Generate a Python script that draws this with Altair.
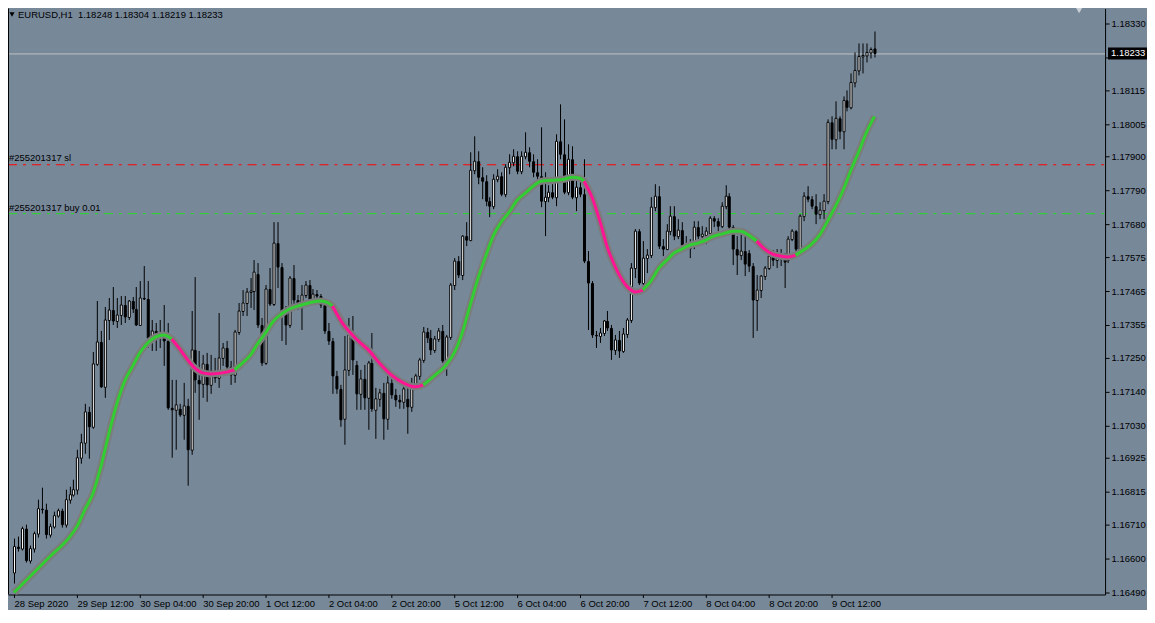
import json
import altair as alt
import pandas as pd

# EURUSD H1 candles, prices quoted in points (1 point = 0.00001)
OPEN_PTS = [
    116554, 116637, 116631, 116695, 116592, 116631, 116682, 116762, 116759, 116676,
    116704, 116740, 116756, 116708, 116791, 116807, 116823, 116926, 116974, 117073,
    117025, 117230, 117301, 117156, 117371, 117403, 117368, 117387, 117419, 117381,
    117432, 117407, 117355, 117442, 117439, 117314, 117336, 117323, 117317, 117304,
    117086, 117080, 117083, 117064, 117092, 116951, 117275, 117179, 117166, 117230,
    117160, 117208, 117185, 117250, 117282, 117221, 117195, 117333, 117400, 117426,
    117461, 117464, 117519, 117355, 117233, 117471, 117423, 117621, 117541, 117400,
    117355, 117506, 117435, 117426, 117452, 117484, 117435, 117455, 117448, 117419,
    117336, 117304, 117192, 117147, 117051, 117211, 117330, 117227, 117131, 117182,
    117121, 117233, 117080, 117115, 117134, 117051, 117169, 117128, 117112, 117108,
    117115, 117089, 117166, 117189, 117243, 117333, 117314, 117275, 117310, 117336,
    117240, 117317, 117484, 117561, 117516, 117641, 117631, 117855, 117884, 117833,
    117820, 117756, 117740, 117827, 117836, 117779, 117865, 117881, 117900, 117852,
    117900, 117913, 117884, 117849, 117836, 117756, 117769, 117785, 117769, 117948,
    117907, 117785, 117891, 117769, 117801, 117779, 117561, 117490, 117323, 117320,
    117330, 117368, 117346, 117275, 117307, 117272, 117326, 117371, 117538, 117657,
    117490, 117570, 117580, 117737, 117772, 117609, 117602, 117657, 117708, 117641,
    117663, 117612, 117605, 117618, 117673, 117644, 117647, 117653, 117702, 117692,
    117676, 117740, 117772, 117673, 117599, 117580, 117593, 117586, 117545, 117435,
    117468, 117512, 117538, 117577, 117564, 117570, 117573, 117564, 117634, 117660,
    117599, 117708, 117772, 117762, 117740, 117714, 117727, 117756, 118009, 117955,
    118022, 117981, 118083, 118058, 118141, 118179, 118224, 118227, 118237, 118248,
]
HIGH_PTS = [
    116663, 116672, 116704, 116708, 116643, 116688, 116791, 116829, 116778, 116714,
    116752, 116762, 116762, 116823, 116833, 116855, 116951, 117003, 117099, 117089,
    117269, 117432, 117336, 117413, 117442, 117477, 117442, 117448, 117448, 117435,
    117445, 117477, 117496, 117545, 117496, 117371, 117362, 117371, 117419, 117362,
    117176, 117176, 117099, 117169, 117115, 117400, 117509, 117272, 117259, 117266,
    117259, 117250, 117394, 117298, 117304, 117240, 117339, 117426, 117468, 117474,
    117506, 117564, 117554, 117378, 117484, 117538, 117689, 117689, 117554, 117416,
    117512, 117548, 117452, 117484, 117496, 117500, 117471, 117468, 117455, 117426,
    117362, 117314, 117208, 117163, 117320, 117378, 117384, 117240, 117211, 117227,
    117240, 117330, 117153, 117147, 117169, 117195, 117185, 117147, 117128, 117160,
    117163, 117185, 117198, 117250, 117349, 117346, 117339, 117320, 117346, 117355,
    117323, 117490, 117570, 117577, 117647, 117686, 117913, 117964, 117916, 117865,
    117839, 117769, 117843, 117859, 117849, 117875, 117907, 117923, 117916, 117916,
    117977, 117929, 117907, 117891, 117993, 117849, 117807, 117811, 117971, 118067,
    118019, 117939, 117932, 117827, 117827, 117891, 117593, 117496, 117336, 117346,
    117371, 117400, 117355, 117323, 117336, 117346, 117378, 117554, 117666, 117666,
    117625, 117602, 117769, 117811, 117804, 117634, 117682, 117740, 117740, 117698,
    117686, 117641, 117634, 117692, 117692, 117676, 117673, 117708, 117708, 117702,
    117753, 117807, 117782, 117679, 117644, 117657, 117644, 117596, 117554, 117516,
    117516, 117545, 117593, 117596, 117602, 117602, 117586, 117644, 117666, 117663,
    117714, 117785, 117804, 117772, 117779, 117753, 117779, 118019, 118029, 118077,
    118029, 118093, 118115, 118170, 118237, 118266, 118266, 118266, 118253, 118304,
]
LOW_PTS = [
    116519, 116621, 116624, 116586, 116583, 116618, 116669, 116746, 116663, 116666,
    116695, 116733, 116701, 116701, 116778, 116801, 116807, 116906, 116939, 116922,
    117019, 117224, 117153, 117121, 117307, 117355, 117346, 117355, 117362, 117371,
    117394, 117352, 117352, 117435, 117282, 117272, 117272, 117282, 117224, 117080,
    116926, 116951, 117057, 116983, 116836, 116935, 117137, 117048, 117121, 117105,
    117131, 117169, 117153, 117224, 117211, 117163, 117169, 117323, 117384, 117384,
    117410, 117403, 117346, 117224, 117227, 117416, 117416, 117474, 117304, 117291,
    117346, 117419, 117403, 117339, 117442, 117426, 117432, 117426, 117410, 117326,
    117291, 117131, 117131, 117025, 116967, 117192, 117195, 117080, 117080, 117080,
    117015, 117073, 116987, 117089, 116983, 117015, 117115, 117089, 117083, 117083,
    117003, 117073, 117147, 117179, 117233, 117298, 117259, 117266, 117301, 117233,
    117192, 117307, 117468, 117506, 117500, 117609, 117625, 117843, 117811, 117762,
    117740, 117705, 117730, 117817, 117772, 117769, 117843, 117868, 117843, 117843,
    117891, 117865, 117833, 117820, 117737, 117644, 117753, 117762, 117740, 117891,
    117779, 117775, 117762, 117724, 117769, 117554, 117339, 117314, 117282, 117298,
    117320, 117336, 117243, 117259, 117250, 117266, 117314, 117362, 117506, 117484,
    117474, 117522, 117570, 117724, 117602, 117577, 117596, 117647, 117628, 117634,
    117602, 117596, 117570, 117602, 117634, 117625, 117618, 117647, 117673, 117660,
    117669, 117730, 117660, 117548, 117516, 117564, 117512, 117525, 117314, 117336,
    117442, 117500, 117532, 117545, 117538, 117545, 117474, 117554, 117625, 117586,
    117593, 117692, 117753, 117730, 117682, 117698, 117698, 117746, 117923, 117923,
    117955, 117923, 118045, 118051, 118122, 118163, 118170, 118205, 118218, 118219,
]
CLOSE_PTS = [
    116637, 116631, 116695, 116592, 116631, 116682, 116762, 116759, 116676, 116704,
    116740, 116756, 116708, 116791, 116807, 116823, 116926, 116974, 117073, 117025,
    117230, 117301, 117156, 117371, 117403, 117368, 117387, 117419, 117381, 117432,
    117407, 117355, 117442, 117439, 117314, 117336, 117323, 117317, 117304, 117086,
    117080, 117096, 117064, 117092, 116951, 117275, 117179, 117166, 117230, 117160,
    117208, 117185, 117250, 117282, 117221, 117195, 117333, 117400, 117426, 117461,
    117464, 117525, 117355, 117233, 117471, 117423, 117621, 117541, 117400, 117355,
    117506, 117435, 117426, 117452, 117484, 117435, 117455, 117448, 117419, 117336,
    117304, 117192, 117147, 117048, 117211, 117323, 117243, 117131, 117182, 117121,
    117233, 117083, 117115, 117134, 117051, 117169, 117128, 117112, 117108, 117147,
    117089, 117166, 117189, 117243, 117333, 117314, 117275, 117310, 117336, 117240,
    117317, 117484, 117561, 117516, 117641, 117631, 117855, 117884, 117833, 117820,
    117756, 117740, 117827, 117836, 117779, 117865, 117881, 117900, 117852, 117900,
    117913, 117884, 117849, 117836, 117756, 117769, 117785, 117769, 117948, 117907,
    117785, 117891, 117769, 117801, 117779, 117561, 117490, 117323, 117320, 117330,
    117368, 117346, 117275, 117307, 117272, 117326, 117371, 117538, 117657, 117490,
    117570, 117580, 117737, 117772, 117609, 117602, 117657, 117708, 117641, 117663,
    117612, 117605, 117618, 117673, 117644, 117650, 117657, 117702, 117692, 117676,
    117740, 117772, 117673, 117599, 117580, 117593, 117551, 117545, 117435, 117468,
    117512, 117538, 117577, 117564, 117570, 117580, 117557, 117634, 117660, 117599,
    117708, 117772, 117762, 117740, 117714, 117727, 117756, 118009, 117955, 118022,
    117981, 118083, 118058, 118141, 118179, 118224, 118227, 118237, 118247, 118233,
]

# moving-average line (bar index, value in points) and its falling stretches
MA_BARS = [0, 4, 9, 14, 16, 18, 20, 22, 24, 26, 28, 30, 32, 34, 36, 38, 40, 42, 44, 46,
           48, 50, 53, 56, 58, 60, 62, 64, 66, 68, 70, 73, 76, 78, 80, 81, 84, 86, 88, 90,
           93, 96, 99, 102, 104, 107, 110, 112, 114, 116, 118, 120, 122, 124, 126, 128, 130,
           132, 134, 137, 140, 142, 144, 145, 147, 149, 151, 153, 155, 157, 158, 160, 162,
           164, 166, 168, 170, 172, 174, 176, 178, 180, 183, 185, 187, 189, 191, 193, 195,
           197, 199, 201, 203, 205, 207, 209, 211, 213, 215, 217, 219]
MA_PTS = [116490, 116541, 116605, 116672, 116704, 116759, 116810, 116897, 117003, 117099,
          117173, 117224, 117266, 117298, 117317, 117323, 117310, 117278, 117243, 117217,
          117201, 117198, 117201, 117211, 117233, 117259, 117294, 117330, 117368, 117391,
          117407, 117419, 117429, 117432, 117426, 117416, 117352, 117323, 117298, 117275,
          117233, 117195, 117169, 117156, 117163, 117192, 117227, 117266, 117330, 117419,
          117506, 117580, 117641, 117686, 117721, 117759, 117782, 117804, 117820, 117823,
          117827, 117833, 117830, 117820, 117769, 117692, 117609, 117545, 117496, 117468,
          117461, 117468, 117496, 117538, 117564, 117586, 117602, 117612, 117621, 117631,
          117641, 117650, 117660, 117657, 117647, 117625, 117602, 117583, 117577, 117573,
          117580, 117596, 117618, 117647, 117692, 117740, 117795, 117852, 117913, 117977,
          118029]
MA_FALLING = [(40, 56), (81, 104), (145, 160), (189, 199)]

TIME_TICK_BARS = [0, 16, 32, 48, 64, 80, 96, 112, 128, 144, 160, 176, 192, 208]
TIME_LABELS = ["28 Sep 2020", "29 Sep 12:00", "30 Sep 04:00", "30 Sep 20:00", "1 Oct 12:00",
               "2 Oct 04:00", "2 Oct 20:00", "5 Oct 12:00", "6 Oct 04:00", "6 Oct 20:00",
               "7 Oct 12:00", "8 Oct 04:00", "8 Oct 20:00", "9 Oct 12:00"]
PRICE_TICKS = [1.18330, 1.18220, 1.18115, 1.18005, 1.17900, 1.17790, 1.17680, 1.17575,
               1.17465, 1.17355, 1.17250, 1.17140, 1.17030, 1.16925, 1.16815, 1.16710,
               1.16600, 1.16490]
HIDDEN_TICK = 1.18220  # tick label covered by the current-price box

HEADER = "EURUSD,H1\u00a0 1.18248 1.18304 1.18219 1.18233"
LAST_PRICE = 1.18233
LAST_TEXT = "1.18233"
SL_PRICE = 1.17875
SL_TEXT = "#255201317 sl"
BUY_PRICE = 1.17716
BUY_TEXT = "#255201317 buy 0.01"

# ---------------- layout / style ----------------
W, H = 1099, 587
X_DOMAIN = [-0.378, 276.45]
Y_DOMAIN = [1.164835, 1.183784]
FONT = "Liberation Sans"
FS = 9.5
BG = "#778899"


def pts(values):
    return [v / 100000 for v in values]


candles = pd.DataFrame({
    "bar": list(range(len(OPEN_PTS))),
    "open": pts(OPEN_PTS), "high": pts(HIGH_PTS),
    "low": pts(LOW_PTS), "close": pts(CLOSE_PTS),
})
candles["body"] = ["bull" if c >= o else "bear" for o, c in zip(candles["open"], candles["close"])]

ma = pd.DataFrame({"bar": MA_BARS, "value": pts(MA_PTS)})
bounds = [MA_BARS[0]] + [b for seg in MA_FALLING for b in seg] + [MA_BARS[-1]]
falling = set(MA_FALLING)
rows = []
for k in range(len(bounds) - 1):
    s, e = bounds[k], bounds[k + 1]
    trend = "down" if (s, e) in falling else "up"
    for b, v in zip(MA_BARS, MA_PTS):
        if s <= b <= e:
            rows.append({"bar": b, "value": v / 100000, "seg": k, "trend": trend})
ma_seg = pd.DataFrame(rows)

xs = alt.Scale(domain=X_DOMAIN, nice=False, zero=False, round=True)
ys = alt.Scale(domain=Y_DOMAIN, nice=False, zero=False, round=True)
x_label_expr = json.dumps(TIME_LABELS) + "[indexof(" + json.dumps(TIME_TICK_BARS) + ", datum.value)]"
y_label_expr = f"abs(datum.value - {HIDDEN_TICK}) < 0.000001 ? '' : format(datum.value, '.5f')"
x_axis = alt.Axis(values=TIME_TICK_BARS, labelExpr=x_label_expr, orient="bottom", labelAlign="left",
                  labelBaseline="top", labelPadding=1, tickSize=3, labelOverlap=False,
                  labelFlush=False, grid=False, title=None)
y_axis = alt.Axis(values=PRICE_TICKS, labelExpr=y_label_expr, orient="right", labelAlign="left",
                  labelBaseline="middle", labelPadding=2, tickSize=4, labelOverlap=False,
                  grid=False, title=None)


def X(field):
    return alt.X(field, type="quantitative", scale=xs, axis=x_axis)


def Y(field):
    return alt.Y(field, type="quantitative", scale=ys, axis=y_axis)


def level_df(price, label=""):
    return pd.DataFrame({"price": [price], "label": [label]})


price_line = alt.Chart(level_df(LAST_PRICE)).mark_rule(
    color="#c0c0c0", strokeWidth=1, yOffset=0.5).encode(
    x=alt.value(0), x2=alt.value(W), y=Y("price"))
sl_line = alt.Chart(level_df(SL_PRICE)).mark_rule(
    color="#ff0000", strokeWidth=1, strokeDash=[9, 6, 3, 6], yOffset=0.5).encode(
    x=alt.value(0), x2=alt.value(W), y=Y("price"))
buy_line = alt.Chart(level_df(BUY_PRICE)).mark_rule(
    color="#22dd22", strokeWidth=1, strokeDash=[9, 6, 3, 6], yOffset=0.5).encode(
    x=alt.value(0), x2=alt.value(W), y=Y("price"))

wicks = alt.Chart(candles).mark_rule(color="black", strokeWidth=1, xOffset=0.5).encode(
    x=X("bar"), y=Y("low"), y2="high:Q")
bodies = alt.Chart(candles).mark_bar(width=2, xOffset=0.5, yOffset=0.5, stroke="black",
                                     strokeWidth=1).encode(
    x=X("bar"), y=Y("open"), y2="close:Q",
    fill=alt.Fill("body:N", scale=alt.Scale(domain=["bull", "bear"], range=["white", "black"]),
                  legend=None))

ma_outline = alt.Chart(ma).mark_line(color="#7c7c7c", strokeWidth=7, interpolate="monotone",
                                     strokeCap="butt", strokeJoin="round").encode(
    x=X("bar"), y=Y("value"))
ma_colored = alt.Chart(ma_seg).mark_line(strokeWidth=3, interpolate="monotone",
                                         strokeCap="butt", strokeJoin="round").encode(
    x=X("bar"), y=Y("value"), detail="seg:N",
    color=alt.Color("trend:N", scale=alt.Scale(domain=["up", "down"],
                                               range=["#32cd32", "#ff1493"]), legend=None))

sl_text = alt.Chart(level_df(SL_PRICE, SL_TEXT)).mark_text(
    align="left", baseline="middle", dy=-6, font=FONT, fontSize=FS, color="black").encode(
    x=alt.value(1), y=Y("price"), text="label:N")
buy_text = alt.Chart(level_df(BUY_PRICE, BUY_TEXT)).mark_text(
    align="left", baseline="middle", dy=-5, font=FONT, fontSize=FS, color="black").encode(
    x=alt.value(1), y=Y("price"), text="label:N")

price_box = alt.Chart(level_df(LAST_PRICE)).mark_rule(
    color="black", strokeWidth=12, strokeCap="butt").encode(
    x=alt.value(W + 3), x2=alt.value(W + 45), y=Y("price"))
price_text = alt.Chart(level_df(LAST_PRICE, LAST_TEXT)).mark_text(
    align="left", baseline="middle", font=FONT, fontSize=FS, color="white").encode(
    x=alt.value(W + 6), y=Y("price"), text="label:N")

one = pd.DataFrame({"t": [HEADER]})
header_tri = alt.Chart(one).mark_point(shape="triangle-down", filled=True, size=26,
                                       color="black", opacity=1).encode(
    x=alt.value(4), y=alt.value(6))
header_text = alt.Chart(one).mark_text(align="left", baseline="middle", font=FONT, fontSize=FS,
                                       color="black").encode(
    x=alt.value(10), y=alt.value(6), text="t:N")
top_marker = alt.Chart(one).mark_point(shape="triangle-down", filled=True, size=40,
                                       color="#c8cfd6", opacity=1).encode(
    x=alt.value(1073), y=alt.value(2))
left_border = alt.Chart(one).mark_rule(color="black", strokeWidth=1).encode(
    x=alt.value(0.5), y=alt.value(0), y2=alt.value(H))

chart = alt.layer(
    price_line, sl_line, buy_line, wicks, bodies, ma_outline, ma_colored,
    sl_text, buy_text, price_box, price_text, header_tri, header_text, top_marker, left_border,
).properties(
    width=W, height=H,
    padding={"left": 0, "top": 0, "right": 42, "bottom": 15},
    autosize=alt.AutoSizeParams(type="none"),
    background=BG,
).configure_view(stroke=None).configure_axis(
    domainColor="black", tickColor="black", labelColor="black", labelFont=FONT,
    labelFontSize=FS, domainWidth=1, tickWidth=1,
)

chart.save("out.html", embed_options={"renderer": "svg", "actions": False})
